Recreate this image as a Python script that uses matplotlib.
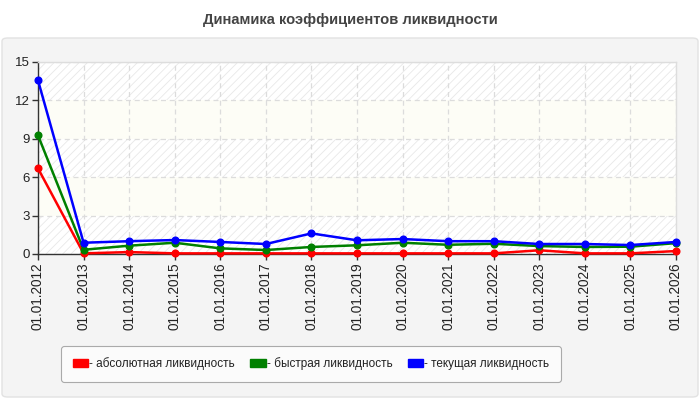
import matplotlib
matplotlib.use("Agg")
import matplotlib.pyplot as plt
from matplotlib.patches import FancyBboxPatch, Patch

dates = ["01.01.2012", "01.01.2013", "01.01.2014", "01.01.2015", "01.01.2016",
         "01.01.2017", "01.01.2018", "01.01.2019", "01.01.2020", "01.01.2021",
         "01.01.2022", "01.01.2023", "01.01.2024", "01.01.2025", "01.01.2026"]
absolute = [6.69, 0.05, 0.15, 0.05, 0.05, 0.05, 0.05, 0.05, 0.05, 0.05, 0.05, 0.29, 0.05, 0.05, 0.23]
quick = [9.27, 0.33, 0.65, 0.88, 0.44, 0.31, 0.55, 0.68, 0.88, 0.72, 0.80, 0.62, 0.55, 0.57, 0.85]
current = [13.57, 0.88, 1.00, 1.09, 0.94, 0.78, 1.61, 1.07, 1.17, 1.00, 1.00, 0.78, 0.78, 0.70, 0.94]
series_names = ["- абсолютная ликвидность", "- быстрая ликвидность", "- текущая ликвидность"]
series_colors = ["#ff0000", "#008000", "#0000ff"]
yticks = [0, 3, 6, 9, 12, 15]

plt.rcParams['font.family'] = ['Liberation Sans', 'DejaVu Sans']
plt.rcParams['hatch.linewidth'] = 0.6
plt.rcParams['hatch.color'] = '#e6e6e6'

W, H = 700, 400
fig = plt.figure(figsize=(7, 4), dpi=100, facecolor='white')

# background panel
panel = FancyBboxPatch((2 / W, 1 - 397 / H), 696 / W, 359 / H,
                       boxstyle="round,pad=0,rounding_size=0.008",
                       transform=fig.transFigure, facecolor='#f4f4f4',
                       edgecolor='#e2e2e2', linewidth=1, zorder=-10)
fig.patches.append(panel)

fig.text(0.5, 1 - 20 / H, "Динамика коэффициентов ликвидности", ha='center', va='center',
         fontsize=10.6, fontweight='bold', color='#444444')

ax = fig.add_axes([38 / W, 1 - 254 / H, (676 - 38) / W, (254 - 62) / H])
ax.set_facecolor('white')
x = list(range(len(dates)))
ax.set_xlim(0, len(dates) - 1)
ax.set_ylim(0, 15)

for i in range(len(yticks) - 1):
    lo, hi = yticks[i], yticks[i + 1]
    if i % 2 == 0:
        ax.axhspan(lo, hi, facecolor='white', hatch='////', edgecolor='#e8e8e8', linewidth=0, zorder=0)
    else:
        ax.axhspan(lo, hi, facecolor='#fdfdf6', linewidth=0, zorder=0)

ax.grid(True, color='#dcdcdc', linestyle=(0, (4, 3)), linewidth=0.9, zorder=1)
ax.set_axisbelow(True)

for vals, col in zip([absolute, quick, current], series_colors):
    ax.plot(x, vals, color=col, linewidth=1.8, marker='o', markersize=4.8, zorder=3, clip_on=False)

ax.set_xticks(x)
ax.set_xticklabels(dates, rotation=90, fontsize=9.8, color='#222222')
ax.set_yticks(yticks)
ax.set_yticklabels([str(t) for t in yticks], fontsize=9.5, color='#222222')
ax.tick_params(axis='both', length=4, width=1, color='#333333', pad=2)
for s in ['top', 'right']:
    ax.spines[s].set_color('#dddddd')
    ax.spines[s].set_linewidth(1)
for s in ['left', 'bottom']:
    ax.spines[s].set_color('#333333')
    ax.spines[s].set_linewidth(1)

handles = [Patch(facecolor=c, edgecolor=c) for c in series_colors]
leg = fig.legend(handles, series_names, loc='center', bbox_to_anchor=(311 / W, 1 - 364 / H),
                 ncol=3, fontsize=8.5, frameon=True, fancybox=True, handlelength=1.3,
                 handleheight=0.7, handletextpad=0.1, columnspacing=1.3,
                 borderpad=0.95, borderaxespad=0, labelcolor='#222222')
frame = leg.get_frame()
frame.set_facecolor('#fbfbfb')
frame.set_edgecolor('#aaaaaa')
frame.set_alpha(1)
frame.set_linewidth(0.8)

fig.savefig("out.png", dpi=100, facecolor='white')
